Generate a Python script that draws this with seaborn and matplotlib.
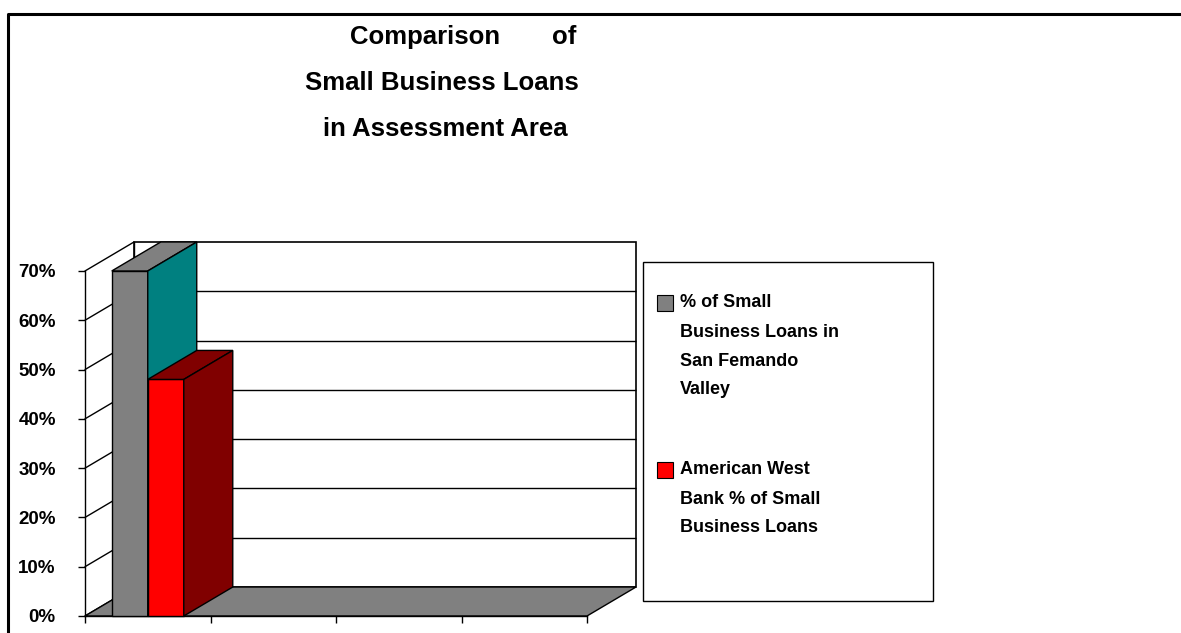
import matplotlib
matplotlib.use("Agg")
import matplotlib.pyplot as plt
from matplotlib.patches import Polygon, Rectangle
from matplotlib.ticker import FuncFormatter
import pandas as pd
import seaborn as sns

# ---- data -------------------------------------------------------------
AREA = ["Assessment Area"]
SERIES = [
    "% of Small\nBusiness Loans in\nSan Femando\nValley",
    "American West\nBank % of Small\nBusiness Loans",
]
SHARE = [0.70, 0.48]
Y_TICKS = [0.0, 0.1, 0.2, 0.3, 0.4, 0.5, 0.6, 0.7]
TITLE_LINES = ["Small Business Loans", "in Assessment Area"]

# ---- styling ----------------------------------------------------------
FRONT = ["#808080", "#FF0000"]
TOP = ["#808080", "#800000"]
SIDE = ["#008080", "#800000"]
FONT = ["Liberation Sans", "DejaVu Sans"]

sns.set_theme(style="white")
plt.rcParams["font.family"] = FONT
plt.rcParams["font.weight"] = "bold"

W, H = 1181, 633
fig = plt.figure(figsize=(W / 100, H / 100), dpi=100)
fig.patch.set_facecolor("white")


def fx(px):
    return px / W


def fy(py):
    return 1 - py / H


# front plane spans 4 category slots, the depth adds an oblique offset
N_SLOTS = 4
DX = 0.3904          # depth offset in category units
DY = 0.0588          # depth offset in value units
YMAX = 0.70
x0, x1 = -0.5, N_SLOTS - 0.5

ax = fig.add_axes([fx(85), fy(616), fx(636) - fx(85), fy(242) - fy(616)])
ax.set_facecolor("none")

df = pd.DataFrame({"area": AREA * len(SERIES), "series": SERIES, "share": SHARE})
sns.barplot(data=df, x="area", y="share", hue="series", hue_order=SERIES,
            palette=FRONT, width=0.574, gap=0, edgecolor="black",
            linewidth=1.0, saturation=1, legend=False, ax=ax)
bars = list(ax.patches)

# back wall with gridlines
ax.add_patch(Rectangle((x0 + DX, DY), x1 - x0, YMAX, facecolor="white",
                       edgecolor="black", linewidth=1.2, zorder=1, clip_on=False))
for v in Y_TICKS[1:-1]:
    ax.plot([x0 + DX, x1 + DX], [v + DY, v + DY], color="black", lw=1.0,
            zorder=1.2, clip_on=False, solid_capstyle="butt")
# side wall diagonals
for v in Y_TICKS:
    ax.plot([x0, x0 + DX], [v, v + DY], color="black", lw=1.0, zorder=1.2,
            clip_on=False)
ax.plot([x0 + DX, x0 + DX], [DY, YMAX + DY], color="black", lw=1.0,
        zorder=1.2, clip_on=False)
# floor
ax.add_patch(Polygon([(x0, 0), (x1, 0), (x1 + DX, DY), (x0 + DX, DY)],
                     closed=True, facecolor="#808080", edgecolor="black",
                     linewidth=1.0, zorder=2, clip_on=False))

# give every bar a top and a side face
for i, bar in enumerate(bars):
    bx, bw, bh = bar.get_x(), bar.get_width(), bar.get_height()
    z = 3 + 2 * i
    bar.set_zorder(z)
    bar.set_clip_on(False)
    top = Polygon([(bx, bh), (bx + bw, bh), (bx + bw + DX, bh + DY), (bx + DX, bh + DY)],
                  closed=True, facecolor=TOP[i], edgecolor="black", lw=1.0,
                  zorder=z, clip_on=False)
    side = Polygon([(bx + bw, 0), (bx + bw + DX, DY), (bx + bw + DX, bh + DY), (bx + bw, bh)],
                   closed=True, facecolor=SIDE[i], edgecolor="black", lw=1.0,
                   zorder=z, clip_on=False)
    ax.add_patch(top)
    ax.add_patch(side)

ax.set_xlim(x0, x1 + DX)
ax.set_ylim(0, YMAX + DY)
ax.set_xlabel("")
ax.set_ylabel("")

ax.set_xticks([x0 + k for k in range(N_SLOTS + 1)])
ax.set_xticklabels([])
ax.set_yticks(Y_TICKS)
ax.yaxis.set_major_formatter(FuncFormatter(lambda v, _: f"{v * 100:.0f}%"))
ax.tick_params(axis="y", direction="out", length=5, width=1, color="black",
               pad=16, labelsize=13.5, labelcolor="black", left=True)
ax.tick_params(axis="x", direction="out", length=5, width=1, color="black",
               bottom=True)
for lab in ax.get_yticklabels():
    lab.set_fontweight("bold")

for s in ["top", "right"]:
    ax.spines[s].set_visible(False)
ax.spines["left"].set_bounds(0, YMAX)
ax.spines["bottom"].set_bounds(x0, x1)
for s in ["left", "bottom"]:
    ax.spines[s].set_color("black")
    ax.spines[s].set_linewidth(1.0)
    ax.spines[s].set_zorder(2.5)

# title
title_kw = dict(ha="center", va="center", fontsize=18.5, fontweight="bold",
                color="black")
fig.text(fx(425), fy(37), "Comparison", **title_kw)
fig.text(fx(564), fy(37), "of", **title_kw)
fig.text(fx(442), fy(83), TITLE_LINES[0], **title_kw)
fig.text(fx(445), fy(129), TITLE_LINES[1], **title_kw)

# legend
fig.add_artist(Rectangle((fx(643), fy(601)), fx(933) - fx(643), fy(262) - fy(601),
                         transform=fig.transFigure, facecolor="white",
                         edgecolor="black", linewidth=1.0))
entry_tops = [303, 470]
for i, label in enumerate(SERIES):
    ytop = entry_tops[i]
    fig.add_artist(Rectangle((fx(657), fy(ytop + 8)), fx(16), 16 / H,
                             transform=fig.transFigure, facecolor=FRONT[i],
                             edgecolor="black", linewidth=0.8))
    for j, line in enumerate(label.split("\n")):
        fig.text(fx(680), fy(ytop + j * 29), line, ha="left", va="center",
                 fontsize=13, fontweight="bold", color="black")

# outer frame
fig.add_artist(plt.Line2D([fx(8), fx(8), 1.0], [0.0, fy(14), fy(14)],
                          transform=fig.transFigure, color="black", lw=2.2))

fig.savefig("out.png", dpi=100, facecolor="white")
